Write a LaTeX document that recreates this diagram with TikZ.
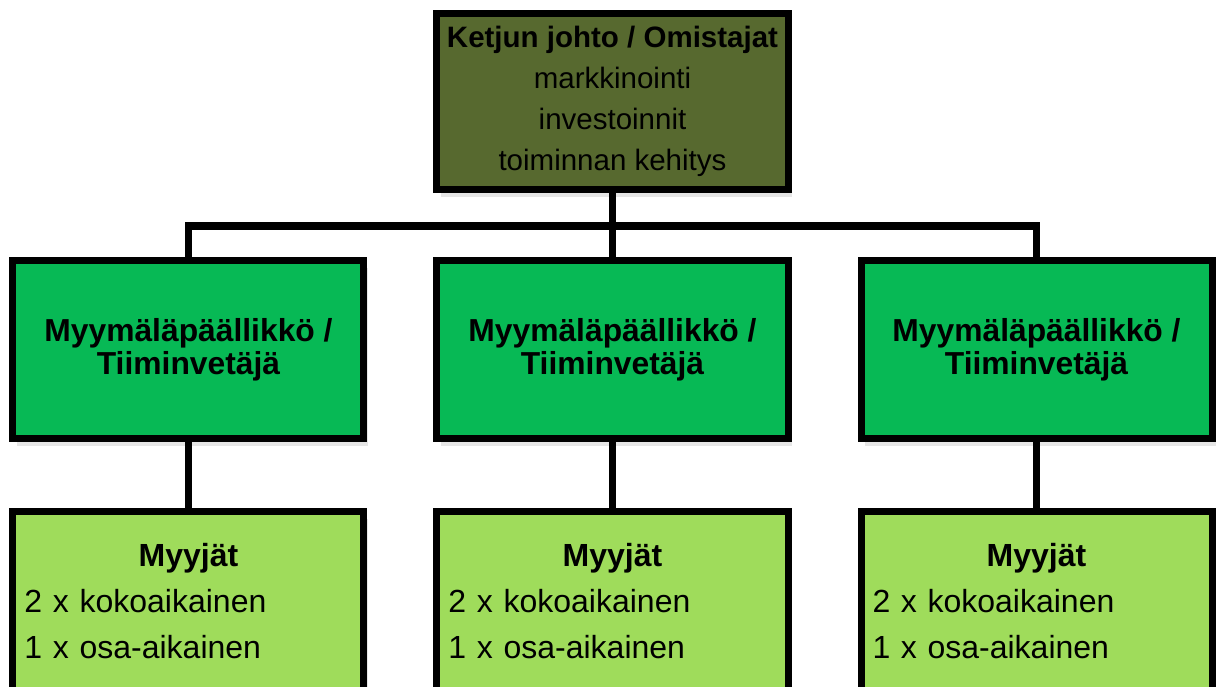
\documentclass[tikz,border=0pt]{standalone}
\usepackage{fontspec}
\setmainfont{Liberation Sans}
\usetikzlibrary{positioning,shadows}
\definecolor{olivebox}{HTML}{57692F}
\definecolor{leadgreen}{HTML}{07B955}
\definecolor{staffgreen}{HTML}{9FDC5B}

\begin{document}
\begin{tikzpicture}[
    node distance=33pt,
    box/.style={draw, line width=3.5pt, minimum width=175.5pt, drop shadow={shadow xshift=2pt, shadow yshift=-3.5pt, opacity=0.2}},
    head/.style={box, fill=olivebox, minimum height=88pt, align=center, font=\fontsize{14.75}{20.5}\selectfont},
    lead/.style={box, fill=leadgreen, minimum height=89pt, align=center, font=\fontsize{15.9}{16.5}\selectfont\bfseries},
    staff/.style={box, fill=staffgreen, minimum height=89.5pt, text width=164pt, inner xsep=5.75pt, align=left, font=\fontsize{16}{23.2}\selectfont},
    link/.style={line width=3.75pt}
  ]
    \useasboundingbox (-306.25pt,50.75pt) rectangle (303.75pt,-292.25pt);

    \node[head] (top) {\textbf{Ketjun johto / Omistajat}\\markkinointi\\investoinnit\\toiminnan kehitys};
    \node[lead, below=32pt of top] (lead2) {Myymäläpäällikkö /\\Tiiminvetäjä};
    \node[lead, left=of lead2] (lead1) {Myymäläpäällikkö /\\Tiiminvetäjä};
    \node[lead, right=of lead2] (lead3) {Myymäläpäällikkö /\\Tiiminvetäjä};
    \node[staff, below=of lead1] (staff1) {\makebox[\linewidth]{\bfseries Myyjät}\\2 x kokoaikainen\\1 x osa-aikainen};
    \node[staff, below=of lead2] (staff2) {\makebox[\linewidth]{\bfseries Myyjät}\\2 x kokoaikainen\\1 x osa-aikainen};
    \node[staff, below=of lead3] (staff3) {\makebox[\linewidth]{\bfseries Myyjät}\\2 x kokoaikainen\\1 x osa-aikainen};
    \coordinate[below=16.5pt of top] (bus);

    \draw[link] (top) -- (lead2);
    \draw[link] (lead1) |- (bus) -| (lead3);
    \draw[link] (lead1) -- (staff1);
    \draw[link] (lead2) -- (staff2);
    \draw[link] (lead3) -- (staff3);
  \end{tikzpicture}
\end{document}
